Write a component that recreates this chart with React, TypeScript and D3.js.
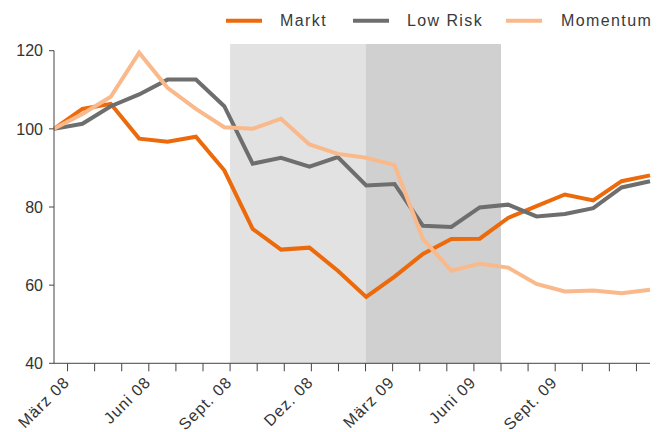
import React from "react";
import * as d3 from "d3";

const months = [
  "März 08", "Apr. 08", "Mai 08", "Juni 08", "Juli 08", "Aug. 08", "Sept. 08", "Okt. 08", "Nov. 08", "Dez. 08", "Jan. 09",
  "Feb. 09", "März 09", "Apr. 09", "Mai 09", "Juni 09", "Juli 09", "Aug. 09", "Sept. 09", "Okt. 09", "Nov. 09", "Dez. 09",
];
const labeledMonths = ["März 08", "Juni 08", "Sept. 08", "Dez. 08", "März 09", "Juni 09", "Sept. 09"];

const markt = [100, 105.1, 106.4, 97.5, 96.7, 98.0, 89.4, 74.4, 69.1, 69.6, 63.7, 57.0, 62.2, 68.0, 71.8, 71.9, 77.2, 80.2, 83.2, 81.7, 86.6, 88.1];
const lowRisk = [100, 101.3, 105.8, 108.8, 112.6, 112.6, 105.8, 91.1, 92.6, 90.3, 92.8, 85.5, 85.9, 75.2, 74.9, 79.9, 80.6, 77.6, 78.2, 79.7, 85.0, 86.6];
const momentum = [100, 103.8, 108.2, 119.5, 110.5, 105.1, 100.4, 100.0, 102.6, 96.0, 93.6, 92.6, 90.7, 71.8, 63.7, 65.5, 64.5, 60.3, 58.4, 58.6, 57.9, 58.8];

const yTicks = [40, 60, 80, 100, 120];
const shadedPeriods = [
  { from: "Sept. 08", to: "Feb. 09", color: "#e2e2e2" },
  { from: "Feb. 09", to: "Juli 09", color: "#d0d0d0" },
];

const series = [
  { name: "Markt", values: markt, color: "#ec6a0b" },
  { name: "Low Risk", values: lowRisk, color: "#6e6e6e" },
  { name: "Momentum", values: momentum, color: "#f9b98b" },
];

export default function App() {
  const left = 54;
  const right = 650;
  const top = 50.7;
  const bottom = 363.3;

  const xLine = d3.scalePoint<string>().domain(months).range([left, right]);
  const xTick = d3.scaleBand<string>().domain(months).range([left, right]);
  const tickX = (m: string) => (xTick(m) as number) + xTick.bandwidth() / 2;
  const y = d3.scaleLinear().domain([40, 120]).range([bottom, top]);

  const line = d3
    .line<number>()
    .x((_, i) => xLine(months[i]) as number)
    .y((d) => y(d));

  const legendItems = [
    { sx: 226, tx: 280 },
    { sx: 353, tx: 407 },
    { sx: 506, tx: 561 },
  ];

  const font = "'Liberation Sans', Arial, Helvetica, sans-serif";

  return (
    <svg
      width={670}
      height={432}
      style={{ position: "absolute", left: 0, top: 0, background: "#fff" }}
      fontFamily={font}
    >
      {shadedPeriods.map((p, i) => (
        <rect
          key={i}
          x={tickX(p.from)}
          y={top - 6.7}
          width={tickX(p.to) - tickX(p.from)}
          height={bottom - top + 6.7}
          fill={p.color}
        />
      ))}

      {series.map((s) => (
        <path
          key={s.name}
          d={line(s.values) || ""}
          fill="none"
          stroke={s.color}
          strokeWidth={4}
          strokeLinejoin="miter"
        />
      ))}

      {/* y axis */}
      <line x1={left} x2={left} y1={top} y2={bottom} stroke="#444" strokeWidth={1} />
      {yTicks.map((t) => (
        <g key={t}>
          <line x1={left - 5} x2={left} y1={y(t)} y2={y(t)} stroke="#444" />
          <text x={43} y={y(t)} dy="0.36em" textAnchor="end" fontSize={16} fill="#333">
            {t}
          </text>
        </g>
      ))}

      {/* x axis */}
      <line x1={left} x2={right} y1={bottom} y2={bottom} stroke="#444" strokeWidth={1} />
      {months.map((m) => (
        <line key={m} x1={tickX(m)} x2={tickX(m)} y1={bottom} y2={bottom + 8} stroke="#444" />
      ))}
      {labeledMonths.map((m) => (
        <text
          key={m}
          transform={`translate(${tickX(m) - 1},${bottom + 16}) rotate(-45)`}
          textAnchor="end"
          dy="0.35em"
          fontSize={16}
          letterSpacing={1}
          fill="#333"
        >
          {m}
        </text>
      ))}

      {/* legend */}
      {series.map((s, i) => (
        <g key={s.name}>
          <line
            x1={legendItems[i].sx}
            x2={legendItems[i].sx + 36}
            y1={20.7}
            y2={20.7}
            stroke={s.color}
            strokeWidth={4}
          />
          <text
            x={legendItems[i].tx}
            y={20.7}
            dy="0.36em"
            fontSize={16}
            letterSpacing={1.4}
            fill="#3a3a3a"
          >
            {s.name}
          </text>
        </g>
      ))}
    </svg>
  );
}
